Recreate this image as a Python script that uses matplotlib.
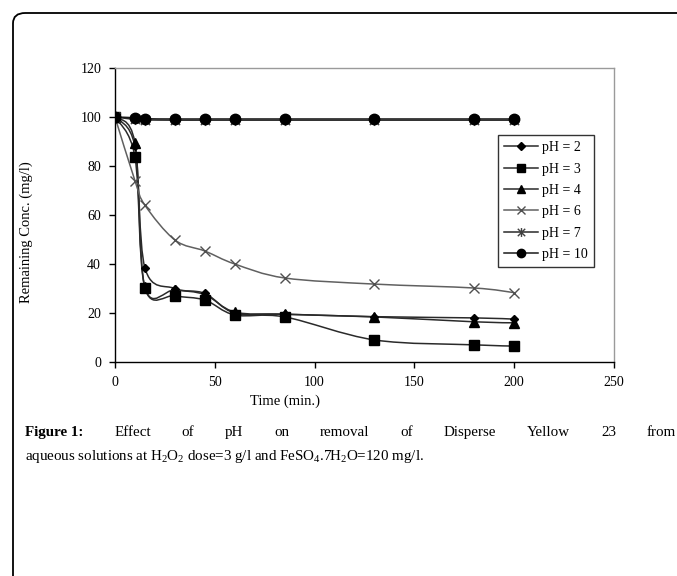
import numpy as np
import matplotlib
matplotlib.use('Agg')
import matplotlib.pyplot as plt
from matplotlib.path import Path
from matplotlib.patches import PathPatch, FancyBboxPatch
from matplotlib.lines import Line2D

plt.rcParams['font.family'] = ['Liberation Serif', 'DejaVu Serif']
plt.rcParams['mathtext.fontset'] = 'custom'
plt.rcParams['mathtext.rm'] = 'Liberation Serif'
plt.rcParams['mathtext.default'] = 'rm'

# data
time_min = [0, 10, 15, 30, 45, 60, 85, 130, 180, 200]
ph2 = [100, 88, 38.4, 30, 28, 20, 19.5, 18.5, 18, 17.5]
ph3 = [100, 83.7, 30.2, 27, 25.3, 19.2, 18.4, 9, 7, 6.5]
ph4 = [100, 89.4, 30.5, 29.4, 27.5, 20.4, 19.5, 18.4, 16.4, 16]
ph6 = [100, 74, 64, 49.8, 45.3, 40, 34.3, 31.8, 30.2, 28.3]
ph7 = [100, 99, 98.8, 98.7, 98.7, 98.7, 98.7, 98.7, 98.7, 98.7]
ph10 = [100, 99.7, 99.3, 99.2, 99.2, 99.2, 99.2, 99.2, 99.2, 99.2]
labels = ['pH = 2', 'pH = 3', 'pH = 4', 'pH = 6', 'pH = 7', 'pH = 10']

caption1 = ['Effect', 'of', 'pH', 'on', 'removal', 'of', 'Disperse', 'Yellow', '23', 'from']
caption2 = 'aqueous solutions at H$_2$O$_2$ dose=3 g/l and FeSO$_4$.7H$_2$O=120 mg/l.'

star = Path([(-1, -1), (1, 1), (-1, 1), (1, -1), (0, -1.2), (0, 1.2)],
            [Path.MOVETO, Path.LINETO, Path.MOVETO, Path.LINETO, Path.MOVETO, Path.LINETO])

styles = [
    dict(marker='D', ms=4.5, color='#2a2a2a', mc='black'),
    dict(marker='s', ms=7, color='#2a2a2a', mc='black'),
    dict(marker='^', ms=6.5, color='#2a2a2a', mc='black'),
    dict(marker='x', ms=7, color='#606060', mc='#505050'),
    dict(marker=star, ms=8, color='#2a2a2a', mc='#404040'),
    dict(marker='o', ms=7.5, color='#1a1a1a', mc='black'),
]


def smooth_path(x, y, k=1.225):
    # excel-like smoothed line: cubic bezier through the points
    x = np.asarray(x, float)
    y = np.asarray(y, float) * k
    n = len(x)
    verts = [(x[0], y[0])]
    codes = [Path.MOVETO]
    for i in range(n - 1):
        p0 = np.array([x[max(i - 1, 0)], y[max(i - 1, 0)]])
        p1 = np.array([x[i], y[i]])
        p2 = np.array([x[i + 1], y[i + 1]])
        p3 = np.array([x[min(i + 2, n - 1)], y[min(i + 2, n - 1)]])
        c1 = p1 + (p2 - p0) / 6.0
        c2 = p2 - (p3 - p1) / 6.0
        verts += [tuple(c1), tuple(c2), tuple(p2)]
        codes += [Path.CURVE4] * 3
    verts = [(vx, vy / k) for vx, vy in verts]
    return Path(verts, codes)


fig = plt.figure(figsize=(6.77, 5.76), dpi=100)

# card border
card = FancyBboxPatch((13 / 677, 1 - 900 / 576), 1.2, 900 / 576 - 13 / 576,
                      boxstyle='round,pad=0,rounding_size=0.018',
                      transform=fig.transFigure, fill=False, lw=1.3,
                      edgecolor='black', clip_on=False)
fig.patches.append(card)

ax = fig.add_axes([115 / 677, 1 - 362 / 576, (614 - 115) / 677, (362 - 68) / 576])
series = [ph2, ph3, ph4, ph6, ph7, ph10]
handles = []
for vals, st, lab in zip(series, styles, labels):
    ax.add_patch(PathPatch(smooth_path(time_min, vals), fill=False,
                           edgecolor=st['color'], lw=1.1, zorder=2))
    ax.plot(time_min, vals, ls='none', marker=st['marker'], ms=st['ms'],
            color=st['mc'], mew=1.0, zorder=3)
    handles.append(Line2D([], [], color=st['color'], lw=1.1, marker=st['marker'],
                          ms=st['ms'] * 0.8, mfc=st['mc'], mec=st['mc'], label=lab))

ax.set_xlim(0, 250)
ax.set_ylim(0, 120)
ax.set_xticks([0, 50, 100, 150, 200, 250])
ax.set_yticks([0, 20, 40, 60, 80, 100, 120])
for s in ['top', 'right']:
    ax.spines[s].set_color('#9a9a9a')
    ax.spines[s].set_linewidth(1.0)
for s in ['left', 'bottom']:
    ax.spines[s].set_color('black')
    ax.spines[s].set_linewidth(1.0)
ax.tick_params(direction='out', length=4, width=1, labelsize=10, colors='black', pad=6)

ax.set_ylabel('Remaining Conc. (mg/l)', fontsize=10.5)
ax.yaxis.set_label_coords((33 - 115) / (614 - 115), (362 - 232) / (362 - 68))
ax.set_xlabel('Time (min.)', fontsize=10.5)
ax.xaxis.set_label_coords((285 - 115) / (614 - 115), -0.11)

leg = fig.legend(handles=handles, loc='upper left',
                 bbox_to_anchor=(498 / 677, 1 - 135 / 576), fontsize=10,
                 frameon=True, fancybox=False, edgecolor='black',
                 handlelength=2.4, handletextpad=0.3, labelspacing=0.6,
                 borderpad=0.45, borderaxespad=0)
leg.get_frame().set_linewidth(1.0)

# caption
fig.canvas.draw()
renderer = fig.canvas.get_renderer()
fs = 12
t2 = fig.text(25 / 677, 1 - 460 / 576, caption2, fontsize=fs, va='baseline')
w = t2.get_window_extent(renderer).width
fs = fs * (425 - 25) / w
t2.set_fontsize(fs)

words = [('Figure 1:', 'bold')] + [(wd, 'normal') for wd in caption1]
texts = []
total = 0
for wd, weight in words:
    t = fig.text(0, 1 - 436 / 576, wd, fontsize=fs, fontweight=weight, va='baseline')
    texts.append(t)
    total += t.get_window_extent(renderer).width
gap = (676 - 25 - total) / (len(words) - 1)
xpos = 25
for t in texts:
    t.set_x(xpos / 677)
    xpos += t.get_window_extent(renderer).width + gap

fig.savefig('out.png', dpi=100)
